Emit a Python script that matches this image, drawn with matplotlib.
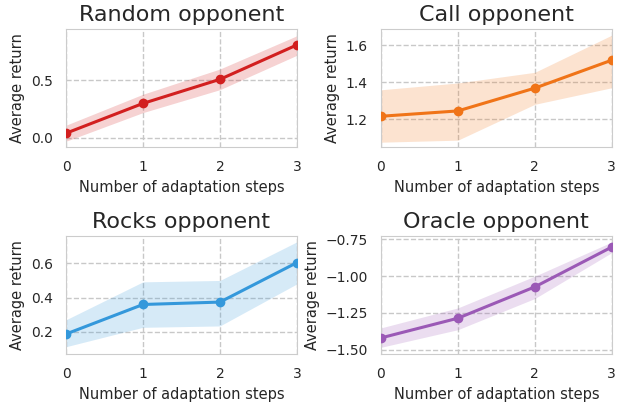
import numpy as np
import matplotlib.pyplot as plt
import seaborn as sns

sns.set_style("whitegrid", {"grid.linestyle": "--"})
plt.rcParams["font.family"] = ["DejaVu Sans"]

steps = [0, 1, 2, 3]
titles = ["Random opponent", "Call opponent", "Rocks opponent", "Oracle opponent"]
colors = ["#d21f1f", "#f07418", "#3498db", "#9b59b6"]

random_mean = [0.04, 0.30, 0.51, 0.81]
random_lo = [-0.03, 0.22, 0.42, 0.72]
random_hi = [0.11, 0.38, 0.60, 0.89]

call_mean = [1.215, 1.244, 1.368, 1.52]
call_lo = [1.074, 1.085, 1.28, 1.37]
call_hi = [1.359, 1.396, 1.454, 1.656]

rocks_mean = [0.188, 0.36, 0.374, 0.604]
rocks_lo = [0.114, 0.227, 0.235, 0.48]
rocks_hi = [0.271, 0.492, 0.50, 0.725]

oracle_mean = [-1.42, -1.286, -1.073, -0.802]
oracle_lo = [-1.484, -1.364, -1.152, -0.84]
oracle_hi = [-1.352, -1.216, -1.0, -0.768]

means = [random_mean, call_mean, rocks_mean, oracle_mean]
lows = [random_lo, call_lo, rocks_lo, oracle_lo]
highs = [random_hi, call_hi, rocks_hi, oracle_hi]
ylims = [(-0.08, 0.95), (1.048, 1.69), (0.071, 0.759), (-1.53, -0.727)]
yticks = [[0.0, 0.5], [1.2, 1.4, 1.6], [0.2, 0.4, 0.6], [-1.5, -1.25, -1.0, -0.75]]

fig, axes = plt.subplots(2, 2, figsize=(6.23, 4.07), dpi=100)
plt.subplots_adjust(left=0.106, right=0.982, top=0.929, bottom=0.130,
                    wspace=0.364, hspace=0.754)

for i, ax in enumerate(axes.flat):
    ax.fill_between(steps, lows[i], highs[i], color=colors[i], alpha=0.2, lw=0)
    ax.plot(steps, means[i], color=colors[i], lw=2.2, marker="o", ms=6, zorder=3)
    ax.set_xlim(0, 3)
    ax.set_ylim(*ylims[i])
    ax.set_xticks(steps)
    ax.set_yticks(yticks[i])
    ax.set_title(titles[i], fontsize=16, color="#262626")
    ax.set_xlabel("Number of adaptation steps", fontsize=10.5, color="#262626")
    ax.set_ylabel("Average return", fontsize=10.5, color="#262626")
    ax.tick_params(labelsize=10, colors="#262626", pad=6)
    ax.grid(True, linestyle="--", color="#c8c8c8", lw=1)
    for s in ax.spines.values():
        s.set_color("#cccccc")

plt.savefig("out.png", dpi=100)
